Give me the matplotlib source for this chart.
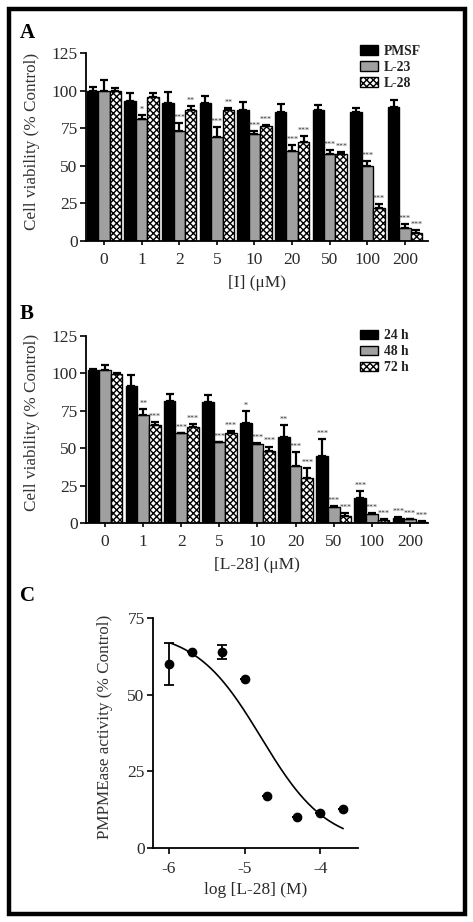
import numpy as np
import matplotlib
matplotlib.use("Agg")
import matplotlib.pyplot as plt
from matplotlib.patches import Rectangle, Patch

plt.rcParams['font.family'] = ['Liberation Serif', 'DejaVu Serif']
plt.rcParams['hatch.linewidth'] = 1.0

# ---------------- data ----------------
conc_labels = ["0", "1", "2", "5", "10", "20", "50", "100", "200"]

# Panel A
a_series = ["PMSF", "L-23", "L-28"]
a_pmsf = [100, 92.8, 92, 91.5, 86.8, 86.1, 86.8, 85.5, 89]
a_pmsf_err = [2.5, 5.6, 7, 4.6, 5.6, 5.1, 3.8, 2.7, 4.5]
a_l23 = [100, 81, 73.3, 69, 71, 60, 58, 50, 8.9]
a_l23_err = [7, 3, 5, 6.7, 2.2, 3.5, 2.2, 2.9, 2.4]
a_l28 = [100, 96, 86.8, 87.3, 76.2, 65.7, 58, 22.2, 5.6]
a_l28_err = [2, 2.7, 2.7, 1.1, 0.7, 3.8, 1, 2.4, 1.8]
a_pmsf_sig = [""] * 9
a_l23_sig = ["", "*", "***", "***", "***", "***", "***", "***", "***"]
a_l28_sig = ["", "", "**", "**", "***", "***", "***", "***", "***"]

# Panel B
b_series = ["24 h", "48 h", "72 h"]
b_24 = [102.1, 91.9, 81.5, 80.6, 66.6, 57.3, 45.1, 16.7, 3.3]
b_24_err = [0.7, 6.9, 4.7, 5.1, 8.2, 8, 10.9, 4.7, 0.7]
b_48 = [102.1, 72.2, 59.9, 54, 52.8, 38.4, 10.9, 6, 2.4]
b_48_err = [3.3, 4.2, 0.5, 0.4, 0.5, 8.9, 0.2, 0.7, 0.5]
b_72 = [99.9, 65.5, 64.4, 60.4, 48.2, 30, 4.4, 2, 0.9]
b_72_err = [0.5, 2.2, 1.8, 0.9, 2.9, 6.6, 2.2, 0.9, 0.4]
b_24_sig = ["", "", "", "", "*", "**", "***", "***", "***"]
b_48_sig = ["", "**", "***", "***", "***", "***", "***", "***", "***"]
b_72_sig = ["", "***", "***", "***", "***", "***", "***", "***", "***"]

# Panel C
c_logx = [-6.0, -5.699, -5.301, -5.0, -4.699, -4.301, -4.0, -3.699]
c_y = [60, 64, 64, 55, 17, 10, 11.5, 12.8]
c_err = [6.8, 0, 2.3, 0, 0, 0, 0, 0]
# fitted 4-parameter logistic (top, bottom, logIC50, hill)
c_fit = dict(top=71.0, bottom=1.0, logic50=-4.78, hill=1.0)
c_fit_range = (-5.97, -3.699)

W, H = 473, 922
fig = plt.figure(figsize=(W / 100, H / 100), dpi=100)


def ax_px(l, r, t, b):
    return fig.add_axes([l / W, (H - b) / H, (r - l) / W, (b - t) / H])


# frame
fig.patches.append(Rectangle((8.5 / W, 8.5 / H), (465 - 8.5) / W, (913 - 8.5) / H,
                             transform=fig.transFigure, fill=False, lw=3.2,
                             edgecolor='black'))

TICK_FS = 12.5
LAB_FS = 12.3
TXT = '#2a2a2a'


def style_axes(ax):
    for s in ['top', 'right']:
        ax.spines[s].set_visible(False)
    for s in ['left', 'bottom']:
        ax.spines[s].set_linewidth(1.3)
    ax.tick_params(axis='both', width=1.2, length=4, labelsize=TICK_FS,
                   direction='out', pad=2, color='black', labelcolor=TXT)


def bar_panel(ax, vals, errs, sigs, labels, xlim, legend_loc, ylab_y):
    x = np.arange(len(conc_labels))
    w = 0.305
    styles = [dict(color='black', hatch=None),
              dict(color='#a0a0a0', hatch=None),
              dict(color='white', hatch='xxxxx')]
    handles = []
    for i, (v, e, s, st) in enumerate(zip(vals, errs, sigs, styles)):
        xs = x + (i - 1) * w
        ax.bar(xs, v, width=w, color=st['color'], edgecolor='black',
               linewidth=1.0, hatch=st['hatch'], zorder=2)
        ax.errorbar(xs, v, yerr=[np.zeros(len(v)), e], fmt='none',
                    ecolor='black', elinewidth=1.6, capsize=3, capthick=1.6,
                    zorder=3)
        for xi, vi, ei, si in zip(xs, v, e, s):
            if si:
                ax.text(xi, vi + ei + 0.8, si, ha='center', va='bottom',
                        fontsize=5.8, color='#333333', zorder=4)
        handles.append(Patch(facecolor=st['color'], edgecolor='black',
                             hatch=st['hatch'], linewidth=1.0))
    ax.set_xlim(*xlim)
    ax.set_ylim(0, 125)
    ax.set_yticks([0, 25, 50, 75, 100, 125])
    ax.set_xticks(x)
    ax.set_xticklabels(conc_labels)
    ax.set_ylabel("Cell viability (% Control)", fontsize=LAB_FS,
                  color='#333333')
    ax.yaxis.set_label_coords(-0.1345, ylab_y)
    style_axes(ax)
    ax.tick_params(axis='x', length=3, pad=5)
    leg = ax.legend(handles, labels, loc='upper left',
                    bbox_to_anchor=legend_loc, frameon=False,
                    prop={'family': 'Liberation Serif', 'size': 9.8,
                          'weight': 'bold'},
                    handlelength=1.3, handleheight=0.7, handletextpad=0.45,
                    labelspacing=0.22, borderaxespad=0, borderpad=0)
    for t in leg.get_texts():
        t.set_color('#222222')


# Panel A
axA = ax_px(86, 428, 53, 241)
bar_panel(axA, [a_pmsf, a_l23, a_l28], [a_pmsf_err, a_l23_err, a_l28_err],
          [a_pmsf_sig, a_l23_sig, a_l28_sig], a_series, (-0.479, 8.612),
          (0.801, 1.045), 0.532)
axA.set_xlabel("[I] (\u03bcM)", fontsize=12.5, color=TXT, labelpad=5)

# Panel B
axB = ax_px(86, 428, 336, 523)
bar_panel(axB, [b_24, b_48, b_72], [b_24_err, b_48_err, b_72_err],
          [b_24_sig, b_48_sig, b_72_sig], b_series, (-0.498, 8.472),
          (0.801, 1.035), 0.537)
axB.set_xlabel("[L-28] (\u03bcM)", fontsize=12.5, color=TXT, labelpad=5)

# Panel C
axC = ax_px(153, 358, 618, 848)
axC.errorbar(c_logx, c_y, yerr=c_err, fmt='o', color='black', markersize=6,
             elinewidth=1.3, capsize=3.5, capthick=1.3, zorder=3)
xf = np.linspace(c_fit_range[0], c_fit_range[1], 200)
yf = c_fit['bottom'] + (c_fit['top'] - c_fit['bottom']) / (
    1 + 10 ** ((xf - c_fit['logic50']) * c_fit['hill']))
axC.plot(xf, yf, color='black', lw=1.2, zorder=2)
axC.set_xlim(-6.21, -3.5)
axC.set_ylim(0, 75)
axC.set_yticks([0, 25, 50, 75])
axC.set_xticks([-6, -5, -4])
axC.set_xticklabels(["-6", "-5", "-4"])
style_axes(axC)
axC.tick_params(axis='x', pad=5)
axC.set_ylabel("PMPMEase activity (% Control)", fontsize=LAB_FS,
               color='#333333')
axC.yaxis.set_label_coords(-0.195, 0.526)
axC.set_xlabel("log [L-28] (M)", fontsize=12.5, color=TXT, labelpad=4)

# panel letters
for letter, y in [("A", 33), ("B", 314), ("C", 596)]:
    fig.text(27 / W, 1 - y / H, letter, fontsize=15, fontweight='bold',
             ha='center', va='center', color='black')

fig.savefig("out.png", dpi=100)
